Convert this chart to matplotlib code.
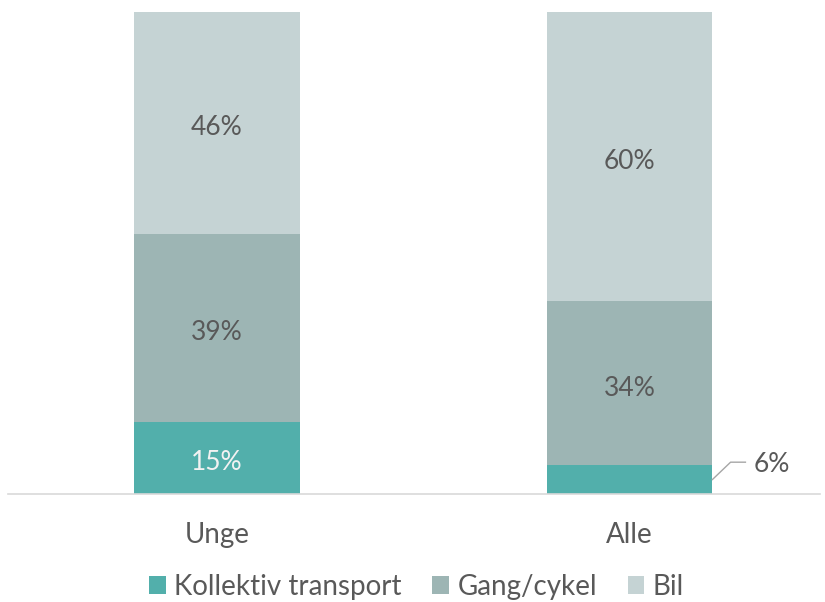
import matplotlib.pyplot as plt
import numpy as np

# Data
groups = ['Unge', 'Alle']
series = ['Kollektiv transport', 'Gang/cykel', 'Bil']
kollektiv = [15, 6]
gang_cykel = [39, 34]
bil = [46, 60]

colors = ['#52afab', '#9db5b4', '#c5d3d4']
text_color = '#595959'
plt.rcParams['font.family'] = ['Lato', 'DejaVu Sans']

fig = plt.figure(figsize=(8.25, 6.02), dpi=100)
ax = fig.add_axes([8 / 825, 1 - 494 / 602, 812 / 825, 482 / 602])

x = np.arange(len(groups))
width = 0.402
values = [kollektiv, gang_cykel, bil]
bottom = np.zeros(len(groups))
for vals, col, name in zip(values, colors, series):
    ax.bar(x, vals, width, bottom=bottom, color=col, label=name)
    for i, v in enumerate(vals):
        mid = bottom[i] + v / 2
        if v < 10:
            # small segment: label outside with leader line
            edge = x[i] + width / 2
            ytop = bottom[i] + v + 0.6
            ax.plot([edge, edge + 0.044, edge + 0.08], [mid, ytop, ytop],
                    color='#a6a6a6', lw=1, clip_on=False)
            ax.text(edge + 0.1, ytop, f'{v}%', ha='left', va='center_baseline',
                    fontsize=19, color=text_color)
        else:
            c = '#f2f2f2' if col == colors[0] else text_color
            ax.text(x[i], mid - 0.5, f'{v}%', ha='center', va='center_baseline',
                    fontsize=19, color=c)
    bottom += np.array(vals)

ax.set_xlim(-0.5067, 1.4618)
ax.set_ylim(0, 100)
ax.set_yticks([])
ax.set_xticks(x)
ax.set_xticklabels(groups, fontsize=20, color=text_color)
ax.tick_params(axis='x', length=0, pad=20)
for s in ['top', 'left', 'right']:
    ax.spines[s].set_visible(False)
ax.spines['bottom'].set_color('#d9d9d9')
ax.spines['bottom'].set_linewidth(1.2)

fig.legend(loc='lower center', bbox_to_anchor=(0.505, -0.038), ncol=3, frameon=False,
           fontsize=20, labelcolor=text_color, handlelength=0.6, handleheight=0.6,
           handletextpad=0.3, columnspacing=1.1)

fig.savefig('out.png', dpi=100)
